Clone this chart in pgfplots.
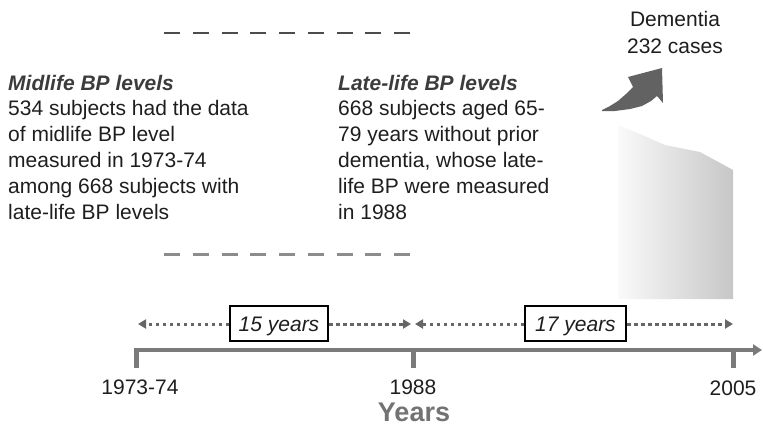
\documentclass[border=0pt]{standalone}
\usepackage{pgfplots}
\pgfplotsset{compat=1.18}
\usepackage{fontspec}
\setmainfont{Liberation Sans}
\usetikzlibrary{arrows.meta}
\definecolor{txt}{HTML}{1E1E1E}
\definecolor{hdr}{HTML}{3C3C3C}
\definecolor{tl}{HTML}{7A7A7A}
\definecolor{dots}{HTML}{666666}
\definecolor{arr}{HTML}{626262}
\tikzset{tx/.style={font=\fontsize{21}{25.8}\selectfont, text=txt, inner sep=0pt}}
\begin{document}
\begin{tikzpicture}
\begin{axis}[
  scale only axis, width=763pt, height=431pt,
  xmin=0, xmax=763, ymin=0, ymax=431, y dir=reverse,
  hide axis, clip=false
]
% dashed separators
\addplot[black!70, line width=1.3pt, dash pattern=on 16pt off 12.75pt] coordinates {(164,33) (410,33)};
\addplot[black!45, line width=3pt, dash pattern=on 16pt off 12.75pt] coordinates {(164,254) (410,254)};
% shaded region
\addplot[draw=none, left color=black!2, right color=black!22] coordinates {(618,299) (618,125) (640,134) (665,145) (700,152) (733,170) (733,299)} -- cycle;
% curved arrow
\addplot[draw=none, fill=arr] coordinates {(602,110) (610,106) (618,101) (626,94) (633,87) (628,77) (662,68) (663,103) (657,96) (651,101) (642,106) (630,109) (615,111) (602,111)} -- cycle;
% timeline
\addplot[tl, line width=3.5pt, -{Triangle[length=9pt,width=11pt]}] coordinates {(134,350) (762,350)};
\addplot[tl, line width=5pt] coordinates {(136,348) (136,368)};
\addplot[tl, line width=5pt] coordinates {(413,348) (413,368)};
\addplot[tl, line width=5pt] coordinates {(733,348) (733,368)};
% dotted interval arrows
\addplot[dots, line width=3pt, dash pattern=on 3.5pt off 3.5pt, -{Triangle[length=8pt,width=9pt]}] coordinates {(229,324) (138,324)};
\addplot[dots, line width=3pt, dash pattern=on 3.5pt off 3.5pt, -{Triangle[length=8pt,width=9pt]}] coordinates {(329,324) (411,324)};
\addplot[dots, line width=3pt, dash pattern=on 3.5pt off 3.5pt, -{Triangle[length=8pt,width=9pt]}] coordinates {(524,324) (415,324)};
\addplot[dots, line width=3pt, dash pattern=on 3.5pt off 3.5pt, -{Triangle[length=8pt,width=9pt]}] coordinates {(627,324) (733,324)};
% boxes
\addplot[black, line width=1.3pt] coordinates {(230,306) (328,306) (328,341) (230,341)} -- cycle;
\addplot[black, line width=1.3pt] coordinates {(525,306) (626,306) (626,341) (525,341)} -- cycle;
\node[tx, anchor=base] at (axis cs:279,331) {\itshape 15 years};
\node[tx, anchor=base] at (axis cs:575.5,331) {\itshape 17 years};
% timeline labels
\node[tx, anchor=base] at (axis cs:140,394) {1973-74};
\node[tx, anchor=base] at (axis cs:413,394) {1988};
\node[tx, anchor=base] at (axis cs:733,395) {2005};
\node[tx, anchor=base, text=black!55, font=\fontsize{27}{30}\selectfont\bfseries] at (axis cs:414,421) {Years};
% dementia
\node[tx, anchor=base] at (axis cs:675,27) {Dementia};
\node[tx, anchor=base] at (axis cs:675,53) {232 cases};
% left block
\node[tx, anchor=base west, text=hdr] at (axis cs:8,90) {\bfseries\itshape Midlife BP levels};
\node[tx, anchor=base west] at (axis cs:8,115.8) {534 subjects had the data};
\node[tx, anchor=base west] at (axis cs:8,141.6) {of midlife BP level};
\node[tx, anchor=base west] at (axis cs:8,167.4) {measured in 1973-74};
\node[tx, anchor=base west] at (axis cs:8,193.2) {among 668 subjects with};
\node[tx, anchor=base west] at (axis cs:8,219) {late-life BP levels};
% right block
\node[tx, anchor=base west, text=hdr] at (axis cs:338,90) {\bfseries\itshape Late-life BP levels};
\node[tx, anchor=base west] at (axis cs:338,115.8) {668 subjects aged 65-};
\node[tx, anchor=base west] at (axis cs:338,141.6) {79 years without prior};
\node[tx, anchor=base west] at (axis cs:338,167.4) {dementia, whose late-};
\node[tx, anchor=base west] at (axis cs:338,193.2) {life BP were measured};
\node[tx, anchor=base west] at (axis cs:338,219) {in 1988};
\end{axis}
\pgfresetboundingbox
\path[use as bounding box] (current axis.south west) rectangle (current axis.north east);
\end{tikzpicture}
\end{document}
